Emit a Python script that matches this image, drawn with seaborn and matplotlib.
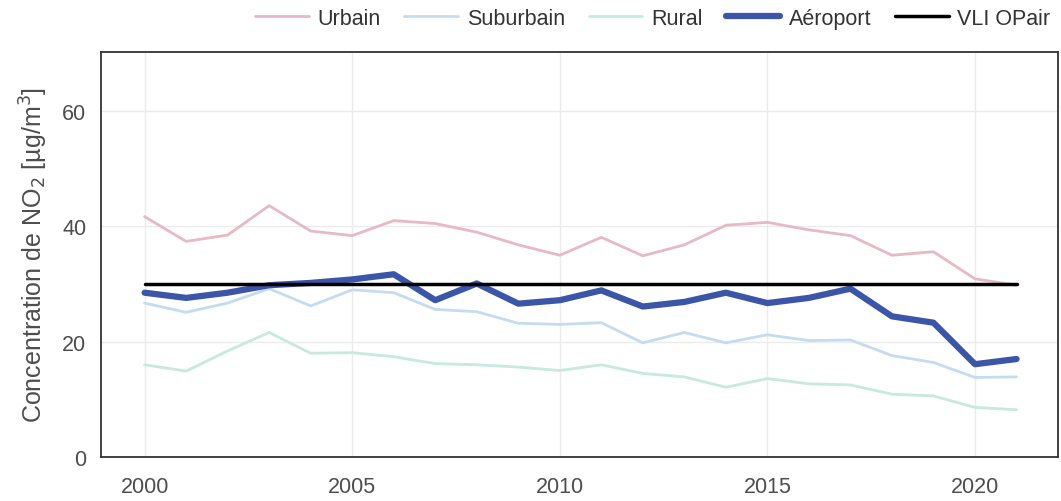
import matplotlib
matplotlib.use("Agg")
import matplotlib.pyplot as plt
import pandas as pd
import seaborn as sns

years = list(range(2000, 2022))
urbain = [41.7, 37.4, 38.5, 43.6, 39.2, 38.4, 41.0, 40.5, 39.0, 36.8, 35.0,
          38.1, 34.9, 36.8, 40.2, 40.7, 39.4, 38.4, 35.0, 35.6, 30.9, 29.8]
suburbain = [26.7, 25.1, 26.7, 29.2, 26.2, 29.0, 28.5, 25.6, 25.2, 23.2, 23.0,
             23.3, 19.8, 21.6, 19.8, 21.2, 20.2, 20.3, 17.6, 16.4, 13.8, 13.9]
rural = [16.0, 14.9, 18.4, 21.6, 18.0, 18.1, 17.4, 16.2, 16.0, 15.6, 15.0,
         16.0, 14.5, 13.9, 12.1, 13.6, 12.7, 12.5, 10.9, 10.6, 8.6, 8.2]
aeroport = [28.5, 27.6, 28.5, 29.8, 30.2, 30.8, 31.7, 27.2, 30.1, 26.6, 27.2,
            28.9, 26.1, 26.9, 28.5, 26.7, 27.6, 29.2, 24.4, 23.3, 16.1, 17.0]
vli = [30] * len(years)

series = ["Urbain", "Suburbain", "Rural", "Aéroport", "VLI OPair"]
colors = {"Urbain": "#E6B9C5", "Suburbain": "#C5DBF2", "Rural": "#C6EADB",
          "Aéroport": "#3B55A9", "VLI OPair": "#000000"}
widths = {"Urbain": 2.0, "Suburbain": 2.0, "Rural": 2.0, "Aéroport": 4.5, "VLI OPair": 2.5}

df = pd.DataFrame({"annee": years, "Urbain": urbain, "Suburbain": suburbain,
                   "Rural": rural, "Aéroport": aeroport, "VLI OPair": vli})
df = df.melt(id_vars="annee", var_name="site", value_name="no2")

sns.set_style("white")
plt.rcParams["font.family"] = ["Liberation Sans", "DejaVu Sans"]

fig = plt.figure(figsize=(10.61, 5.02), dpi=100)
ax = fig.add_axes([0.0952, 0.0876, 0.902, 0.8074])

for s in series:
    sns.lineplot(data=df[df["site"] == s], x="annee", y="no2", color=colors[s],
                 linewidth=widths[s], label=s, ax=ax)

ax.set_xlim(1998.95, 2022)
ax.set_ylim(0, 70.3)
ax.set_xticks([2000, 2005, 2010, 2015, 2020])
ax.set_yticks([0, 20, 40, 60])
ax.grid(True, color="#EBEBEB", linewidth=1.0)
ax.set_axisbelow(True)
for sp in ax.spines.values():
    sp.set_color("#333333")
    sp.set_linewidth(1.3)
ax.tick_params(axis="both", direction="out", length=6.5, width=1.1, color="#333333",
               labelsize=15.5, labelcolor="#4D4D4D", pad=4)
ax.tick_params(axis="x", pad=7)
ax.set_xlabel("")
ax.set_ylabel("Concentration de NO$_2$ [µg/m$^3$]", fontsize=18, color="#4D4D4D",
              labelpad=9)

ax.legend(loc="center right", bbox_to_anchor=(0.992, 1.083), ncol=5, frameon=False,
          fontsize=15.5, handlelength=2.5, columnspacing=1.1, handletextpad=0.4,
          borderaxespad=0.0, borderpad=0.0, labelcolor="#333333")

fig.savefig("out.png", dpi=100)
